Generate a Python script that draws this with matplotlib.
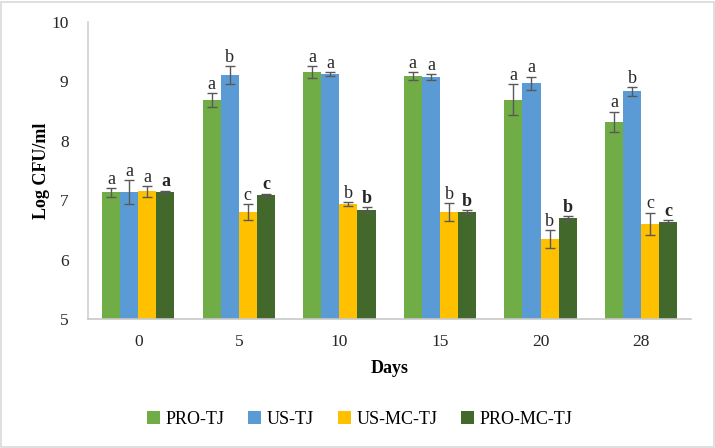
import numpy as np
import matplotlib.pyplot as plt
from matplotlib.patches import Rectangle

plt.rcParams['font.family'] = ['Liberation Serif', 'DejaVu Serif']

days = ['0', '5', '10', '15', '20', '28']
series = ['PRO-TJ', 'US-TJ', 'US-MC-TJ', 'PRO-MC-TJ']
colors = ['#70AD47', '#5B9BD5', '#FFC000', '#43682B']

pro_tj = [7.13, 8.68, 9.16, 9.09, 8.69, 8.32]
us_tj = [7.14, 9.11, 9.12, 9.07, 8.97, 8.83]
us_mc_tj = [7.15, 6.80, 6.94, 6.80, 6.34, 6.60]
pro_mc_tj = [7.14, 7.08, 6.84, 6.80, 6.70, 6.64]

pro_tj_err = [0.08, 0.12, 0.10, 0.06, 0.26, 0.17]
us_tj_err = [0.20, 0.15, 0.03, 0.05, 0.11, 0.08]
us_mc_tj_err = [0.09, 0.14, 0.03, 0.15, 0.15, 0.19]
pro_mc_tj_err = [0.02, 0.03, 0.05, 0.04, 0.03, 0.02]

pro_tj_lbl = ['a', 'a', 'a', 'a', 'a', 'a']
us_tj_lbl = ['a', 'b', 'a', 'a', 'a', 'b']
us_mc_tj_lbl = ['a', 'c', 'b', 'b', 'b', 'c']
pro_mc_tj_lbl = ['a', 'c', 'b', 'b', 'b', 'c']

values = [pro_tj, us_tj, us_mc_tj, pro_mc_tj]
errors = [pro_tj_err, us_tj_err, us_mc_tj_err, pro_mc_tj_err]
letters = [pro_tj_lbl, us_tj_lbl, us_mc_tj_lbl, pro_mc_tj_lbl]

fig = plt.figure(figsize=(7.15, 4.48), dpi=100)
ax = fig.add_axes([0.123, 0.288, 0.844, 0.663])

x = np.arange(len(days))
w = 0.18
for i in range(len(series)):
    pos = x + (i - 1.5) * w
    ax.bar(pos, values[i], w, color=colors[i], label=series[i], zorder=2)
    ax.errorbar(pos, values[i], yerr=errors[i], fmt='none', ecolor='#595959',
                elinewidth=1, capsize=3.5, capthick=1, zorder=3)
    # significance letters, bold for the last series
    for j in range(len(days)):
        ax.annotate(letters[i][j], (pos[j], values[i][j] + errors[i][j]),
                    xytext=(0, 3), textcoords='offset points', ha='center',
                    va='baseline', fontsize=13, color='#262626',
                    fontweight='bold' if i == 3 else 'normal')

ax.set_ylim(5, 10)
ax.set_xlim(-0.5, len(days) - 0.5)
ax.set_yticks(range(5, 11))
ax.set_xticks(x)
ax.set_xticklabels(days)
ax.tick_params(length=0, labelsize=12.5, colors='#262626')
ax.tick_params(axis='x', pad=11)
ax.tick_params(axis='y', pad=14)
for s in ['top', 'right']:
    ax.spines[s].set_visible(False)
ax.spines['left'].set_color('#D0D0D0')
ax.spines['bottom'].set_color('#C8C8C8')
ax.spines['left'].set_linewidth(1.2)
ax.spines['bottom'].set_linewidth(1.2)

ax.set_xlabel('Days', fontsize=13, fontweight='bold', labelpad=7)
ax.set_ylabel('Log CFU/ml', fontsize=13, fontweight='bold', labelpad=1)

fig.legend(loc='center', bbox_to_anchor=(0.503, 0.064), ncol=4, frameon=False,
           fontsize=13, handlelength=0.75, handleheight=0.75, handletextpad=0.3,
           columnspacing=1.3)

fig.patches.append(Rectangle((0.002, 0.003), 0.996, 0.993, transform=fig.transFigure,
                             fill=False, edgecolor='#D9D9D9', linewidth=1.2))

plt.savefig('out.png', dpi=100)
